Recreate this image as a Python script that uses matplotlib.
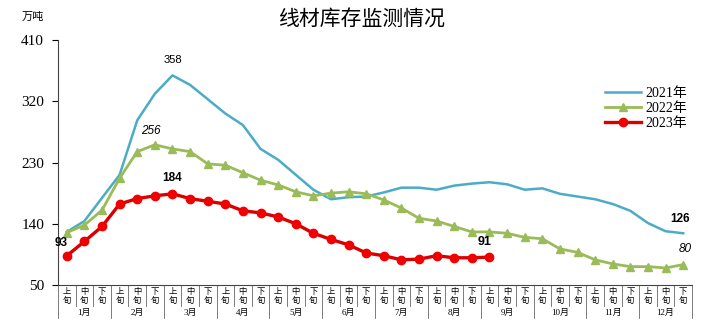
import matplotlib
matplotlib.use('Agg')
import matplotlib.pyplot as plt
import matplotlib.transforms as mtransforms

# slot labels
decades = ['上\n旬', '中\n旬', '下\n旬']
months = ['1月', '2月', '3月', '4月', '5月', '6月',
          '7月', '8月', '9月', '10月', '11月', '12月']

# inventory, 10k tonnes, one value per ten-day period
v2021 = [128, 144, 178, 212, 292, 331, 358, 344, 323, 302, 285, 250,
         234, 212, 190, 176, 179, 180, 186, 193, 193, 190, 196, 199,
         201, 198, 190, 192, 184, 180, 176, 169, 159, 141, 129, 126]
v2022 = [127, 138, 160, 207, 246, 256, 250, 246, 228, 226, 215, 204,
         197, 187, 181, 185, 187, 184, 175, 163, 148, 144, 136, 128,
         128, 126, 120, 118, 103, 98, 87, 81, 77, 77, 75, 80]
v2023 = [93, 114, 136, 169, 177, 181, 184, 177, 173, 169, 159, 156,
         150, 140, 126, 117, 109, 97, 93, 87, 88, 93, 90, 90, 91]

yticks = [50, 140, 230, 320, 410]

serif = ['Liberation Serif', 'Noto Sans CJK SC']
cjk = ['Noto Sans CJK SC', 'DejaVu Sans']
sans = ['Liberation Sans', 'DejaVu Sans']

fig = plt.figure(figsize=(7.03, 3.28), dpi=100)
ax = fig.add_axes([58 / 703, 43 / 328, 634 / 703, 245 / 328])

x21 = range(len(v2021))
x22 = range(len(v2022))
x23 = range(len(v2023))
ax.plot(x21, v2021, color='#4BACC6', lw=1.8, label='2021年', zorder=2)
ax.plot(x22, v2022, color='#9BBB59', lw=2.0, marker='^', ms=5.5,
        label='2022年', zorder=3)
ax.plot(x23, v2023, color='#D80000', lw=2.4, marker='o', ms=6,
        markerfacecolor='#F00000', markeredgecolor='#F00000',
        label='2023年', zorder=4)

ax.set_xlim(-0.5, 35.5)
ax.set_ylim(50, 410)
ax.set_yticks(yticks)
ax.set_yticklabels([str(t) for t in yticks], family=serif, fontsize=11)
ax.tick_params(axis='y', direction='out', length=4, width=0.8, pad=6)
ax.set_xticks([])
for s in ['top', 'right']:
    ax.spines[s].set_visible(False)
ax.spines['left'].set_color('#444444')
ax.spines['bottom'].set_color('#444444')

# category labels under the axis
trans = mtransforms.blended_transform_factory(ax.transData, ax.transAxes)
px = 1 / 245
for i in range(36):
    ax.text(i, -2 * px, decades[i % 3], transform=trans, ha='center',
            va='top', fontsize=6, family=cjk, linespacing=1.0)
for i in range(37):
    depth = 33 if i % 3 == 0 else 21
    ax.plot([i - 0.5, i - 0.5], [0, -depth * px], transform=trans,
            color='#666666', lw=0.6, clip_on=False)
for m, name in enumerate(months):
    ax.text(3 * m + 1, -28 * px, name, transform=trans, ha='center',
            va='center', fontsize=6.5, family=serif)

# data labels
def label(x, y, text, dx, dy, **kw):
    ax.annotate(text, xy=(x, y), xytext=(dx, -dy), textcoords='offset pixels',
                ha='center', va='center', family=sans, **kw)

label(6, v2021[6], '358', 0, -15, fontsize=8)
label(5, v2022[5], '256', -4, -14, fontsize=8.5, style='italic')
label(6, v2023[6], '184', 0, -16, fontsize=8.5, weight='bold')
label(0, v2023[0], '93', -6, -13, fontsize=8.5, weight='bold')
label(24, v2023[24], '91', -5, -15, fontsize=9, weight='bold')
label(35, v2021[35], '126', -3, -14, fontsize=8.5, weight='bold')
label(35, v2022[35], '80', 2, -16, fontsize=8.5, style='italic')

fig.text(362 / 703, 1 - 20 / 328, '线材库存监测情况', ha='center', va='center',
         fontsize=15, family=cjk)
fig.text(33 / 703, 1 - 17 / 328, '万吨', ha='center', va='center',
         fontsize=8, family=cjk)

leg = ax.legend(loc='upper left', bbox_to_anchor=(598 / 703, 1 - 80 / 328),
                bbox_transform=fig.transFigure, frameon=False,
                prop={'family': serif, 'size': 10}, handlelength=2.6,
                handletextpad=0.3, labelspacing=0.15, borderpad=0)

fig.savefig('out.png', dpi=100)
